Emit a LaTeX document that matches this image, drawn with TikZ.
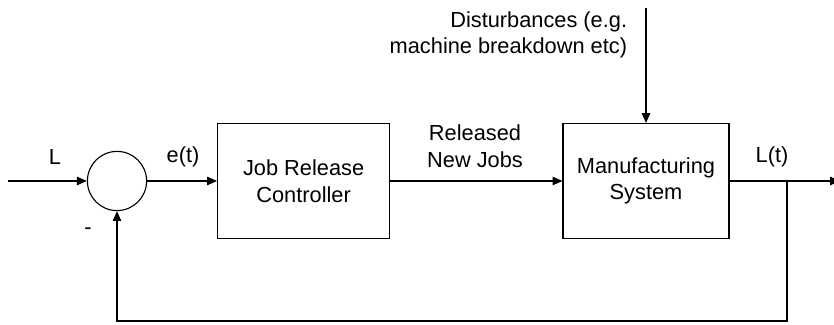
\documentclass[tikz,border=0pt]{standalone}
\usepackage{fontspec}
\setmainfont{Liberation Sans}
\usepackage{tikz}
\usetikzlibrary{positioning,arrows.meta}

\begin{document}
\begin{tikzpicture}[
  font=\fontsize{15.5}{19}\selectfont,
  block/.style={draw, line width=0.8pt, minimum width=4.3cm,
                minimum height=2.875cm, align=center},
  sumnode/.style={draw, circle, line width=0.8pt, minimum size=1.48cm, inner sep=0pt},
  arr/.style={-{Triangle[length=7pt,width=6pt]}, line width=0.8pt},
  lbl/.style={align=center, inner sep=1pt}
]
  \useasboundingbox (0,0) rectangle (20.85,8.125);

  % Summing junction and the two blocks along the main path
  \node[sumnode] (sum) at (2.925,3.6) {};
  \node[block] (jrc) at (7.59,3.6) {Job Release\\Controller};
  \node[block, minimum width=4.15cm] (ms) at (16.15,3.6) {Manufacturing\\System};

  % Free ends of the signal lines
  \coordinate (in) at (0.2,3.6);
  \coordinate (out) at (21.0,3.6);
  \coordinate (branch) at (19.675,3.6);
  \coordinate (dist) at (16.15,7.925);
  \coordinate (fbr) at (19.675,0.1);
  \coordinate (fbl) at (2.925,0.1);

  % Forward path
  \draw[arr] (in) -- (sum);
  \draw[arr] (sum) -- (jrc);
  \draw[arr] (jrc) -- (ms);
  \draw[arr] (ms) -- (out);
  \draw[arr] (dist) -- (ms);

  % Feedback loop back into the junction
  \draw[arr] (branch) -- (fbr) -- (fbl) -- (sum);

  % Signal labels
  \node[lbl] (lref) at (1.375,4.2) {L};
  \node[lbl] (err) at (4.575,4.2) {e(t)};
  \node[lbl] (jobs) at (11.875,4.475) {Released\\New Jobs};
  \node[lbl] (lout) at (19.3,4.2) {L(t)};
  \node[lbl] (minus) at (2.2,2.35) {-};
  \node[lbl, align=right, anchor=east] (disttxt) at (15.72,7.25)
    {Disturbances (e.g.\\machine breakdown etc)};
\end{tikzpicture}
\end{document}
